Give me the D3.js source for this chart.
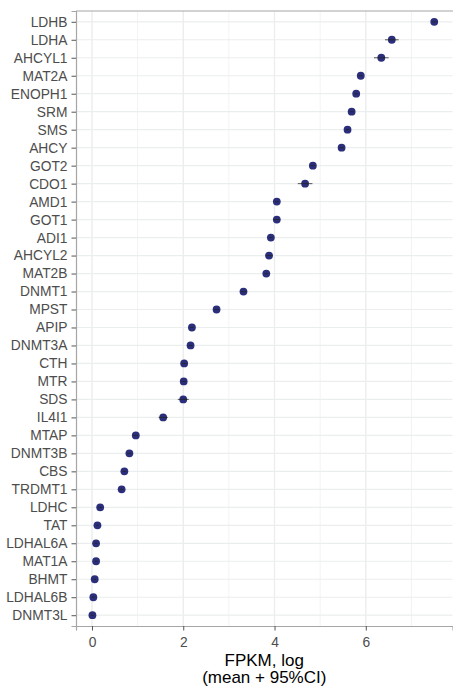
<!DOCTYPE html>
<html>
<head>
<meta charset="utf-8">
<script src="https://cdn.jsdelivr.net/npm/d3@7"></script>
<style>
  body { margin: 0; background: #fff; }
  text { font-family: "Liberation Sans", Arial, sans-serif; }
</style>
</head>
<body>
<svg id="chart"></svg>
<script>
// genes, top to bottom
var genes = ["LDHB","LDHA","AHCYL1","MAT2A","ENOPH1","SRM","SMS","AHCY","GOT2","CDO1",
  "AMD1","GOT1","ADI1","AHCYL2","MAT2B","DNMT1","MPST","APIP","DNMT3A","CTH",
  "MTR","SDS","IL4I1","MTAP","DNMT3B","CBS","TRDMT1","LDHC","TAT","LDHAL6A",
  "MAT1A","BHMT","LDHAL6B","DNMT3L"];

// mean log FPKM
var means = [7.50, 6.57, 6.34, 5.89, 5.79, 5.69, 5.60, 5.47, 4.84, 4.67,
  4.05, 4.05, 3.92, 3.88, 3.82, 3.32, 2.73, 2.19, 2.16, 2.02,
  2.01, 2.00, 1.56, 0.96, 0.82, 0.71, 0.65, 0.18, 0.12, 0.09,
  0.09, 0.06, 0.03, 0.01];

// half width of the 95% CI
var ci = [0.05, 0.15, 0.16, 0.04, 0.04, 0.04, 0.04, 0.05, 0.05, 0.16,
  0.04, 0.07, 0.04, 0.06, 0.04, 0.06, 0.05, 0.04, 0.04, 0.05,
  0.05, 0.12, 0.10, 0.05, 0.05, 0.04, 0.04, 0.04, 0.03, 0.03,
  0.03, 0.03, 0.03, 0.03];

var xTicks = [0, 2, 4, 6];
var xMinor = [1, 3, 5, 7];

var width = 453, height = 688;
var mLeft = 76, mRight = 452.5, mTop = 11, mBottom = 626;   // panel edges

var svg = d3.select("#chart").attr("width", width).attr("height", height);

var x = d3.scaleLinear().domain([-0.35, 7.9]).range([mLeft, mRight]);
var y = d3.scalePoint().domain(genes).range([mTop, mBottom]).padding(0.6);

var data = genes.map(function(g, i){ return {gene: g, mean: means[i], lo: means[i] - ci[i], hi: means[i] + ci[i]}; });

// grid
var grid = svg.append("g");
grid.selectAll(".minor").data(xMinor).enter().append("line")
  .attr("x1", d => x(d)).attr("x2", d => x(d)).attr("y1", mTop).attr("y2", mBottom)
  .attr("stroke", "#eef0f0").attr("stroke-width", 0.8);
grid.selectAll(".major").data(xTicks).enter().append("line")
  .attr("x1", d => x(d)).attr("x2", d => x(d)).attr("y1", mTop).attr("y2", mBottom)
  .attr("stroke", "#ebeeee").attr("stroke-width", 1.4);
grid.selectAll(".hgrid").data(genes).enter().append("line")
  .attr("x1", mLeft).attr("x2", mRight).attr("y1", d => y(d)).attr("y2", d => y(d))
  .attr("stroke", "#ebeeee").attr("stroke-width", 1.2);

// top border
svg.append("line").attr("x1", mLeft).attr("x2", width).attr("y1", mTop).attr("y2", mTop)
  .attr("stroke", "#a6a6a6").attr("stroke-width", 1.2);

// axes
var yAxis = svg.append("g").attr("transform", "translate(" + mLeft + ",0)")
  .call(d3.axisLeft(y).tickSize(4.5).tickPadding(4));
var xAxis = svg.append("g").attr("transform", "translate(0," + mBottom + ")")
  .call(d3.axisBottom(x).tickValues(xTicks).tickSize(4.5).tickPadding(7));

[yAxis, xAxis].forEach(function(a){
  a.select(".domain").attr("stroke", "#a6a6a6").attr("stroke-width", 1.2);
  a.selectAll(".tick line").attr("stroke", "#555");
  a.selectAll(".tick text").attr("fill", "#4d4d4d").style("font-size", "13.8px")
    .style("font-family", "'Liberation Sans', Arial, sans-serif");
});

// points then CI bars
svg.append("g").selectAll("circle").data(data).enter().append("circle")
  .attr("cx", d => x(d.mean)).attr("cy", d => y(d.gene)).attr("r", 3.9)
  .attr("fill", "#2b2f7b");
svg.append("g").selectAll("line").data(data).enter().append("line")
  .attr("x1", d => x(d.lo)).attr("x2", d => x(d.hi))
  .attr("y1", d => y(d.gene)).attr("y2", d => y(d.gene))
  .attr("stroke", "#222").attr("stroke-opacity", 0.7).attr("stroke-width", 1.1);

// axis title, two lines
var cx = (mLeft + mRight) / 2;
svg.append("text").attr("x", cx).attr("y", 665.5).attr("text-anchor", "middle")
  .attr("fill", "#000").style("font-size", "17px").text("FPKM, log");
svg.append("text").attr("x", cx).attr("y", 682.5).attr("text-anchor", "middle")
  .attr("fill", "#000").style("font-size", "17px").text("(mean + 95%CI)");
</script>
</body>
</html>
